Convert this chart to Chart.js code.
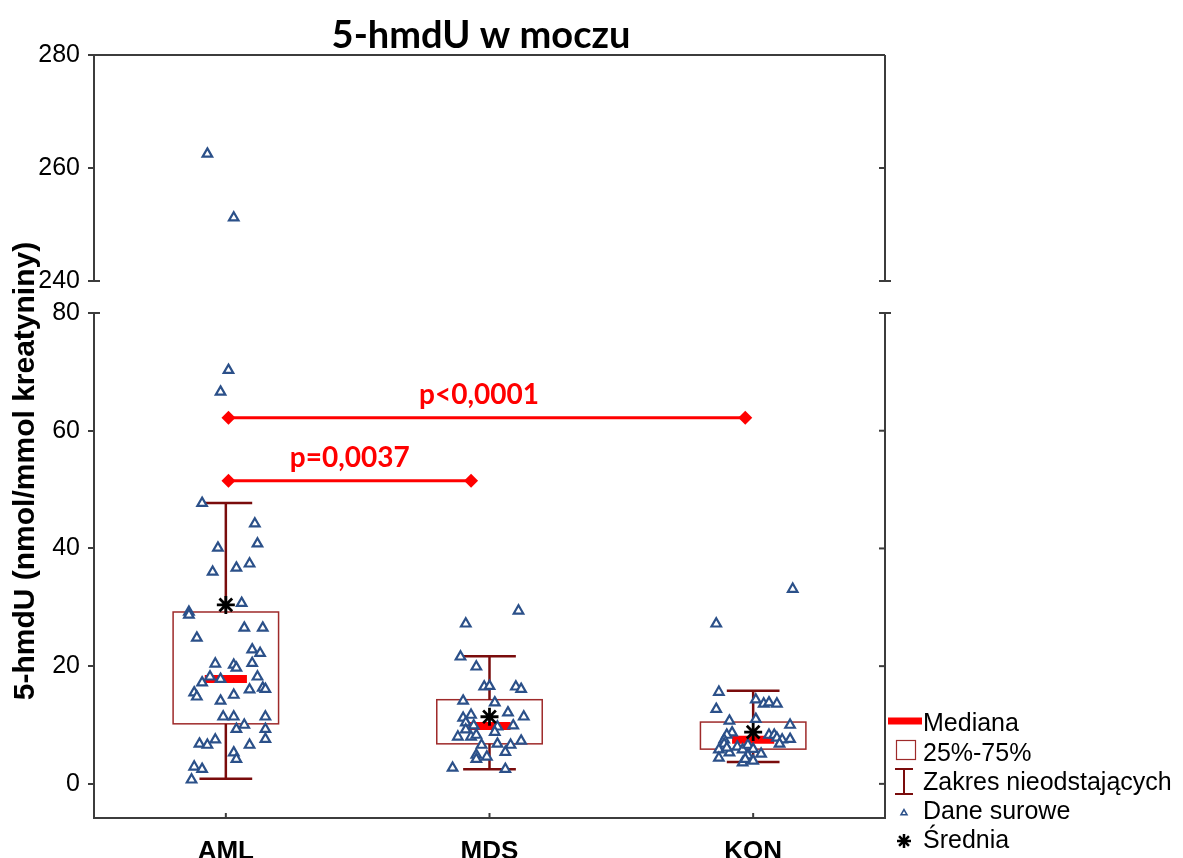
<!DOCTYPE html>
<html>
<head>
<meta charset="utf-8">
<title>5-hmdU w moczu</title>
<script src="https://cdn.jsdelivr.net/npm/chart.js@4.4.1/dist/chart.umd.min.js"></script>
<style>
  html, body { margin: 0; padding: 0; background: #fff; }
  #wrap { position: relative; width: 1183px; height: 858px; }
</style>
</head>
<body>
<div id="wrap"><canvas id="chart" width="1183" height="858"></canvas></div>
<script>
const groups = ['AML', 'MDS', 'KON'];
const yTicksUpper = [240, 260, 280];
const yTicksLower = [0, 20, 40, 60, 80];

// raw values per group; *X holds the jittered horizontal position
const amlX = [0.86, 0.86, 1.06, 0.89, 1.07, 1.14, 1.10, 1.13, 0.96, 1.03,
              1.04, 1.10, 0.91, 0.94, 0.98, 1.12, 1.09, 1.14, 1.15, 0.88,
              0.89, 1.03, 0.98, 0.99, 1.03, 1.15, 1.04, 1.07, 1.15, 1.15,
              0.90, 0.93, 0.96, 1.09, 1.03, 1.04, 0.88, 0.91, 0.87, 0.91,
              1.11, 1.12, 0.97, 0.95, 1.04, 1.09, 1.01, 0.98, 0.93, 1.03];
const amlY = [29.2, 28.7, 30.7, 24.8, 26.5, 26.5, 22.8, 22.2, 20.4, 20.2,
              19.7, 20.5, 17.2, 18.2, 17.8, 18.2, 16.0, 16.3, 16.1, 15.5,
              14.8, 15.1, 14.1, 11.4, 11.4, 11.4, 9.3, 10.0, 9.3, 7.6,
              6.8, 6.6, 7.5, 6.6, 5.3, 4.2, 2.9, 2.5, 0.7, 47.7,
              44.2, 40.8, 40.1, 36.0, 36.7, 37.4, 70.3, 66.6, 262.5, 251.2];
const mdsX = [2.11, 1.91, 1.89, 1.95, 1.98, 2.00, 2.10, 2.12, 1.90, 2.02,
              2.07, 2.13, 1.90, 1.93, 1.91, 1.94, 2.03, 2.09, 1.91, 2.02,
              1.93, 1.88, 1.95, 2.12, 1.97, 2.03, 2.08, 2.06, 1.95, 1.95,
              1.99, 1.86, 2.06];
const mdsY = [29.4, 27.2, 21.6, 19.9, 16.5, 16.6, 16.5, 16.1, 14.1, 13.8,
              12.1, 11.4, 11.2, 11.7, 10.4, 9.9, 9.7, 9.9, 9.2, 8.8,
              8.0, 8.0, 8.3, 7.3, 6.6, 6.8, 6.6, 5.4, 4.9, 4.2,
              4.6, 2.7, 2.5];
const konX = [3.15, 2.86, 2.87, 2.86, 3.01, 3.04, 3.06, 3.09, 2.91, 3.01,
              3.14, 2.92, 2.90, 2.89, 3.06, 3.08, 3.09, 3.11, 3.14, 3.10,
              2.89, 2.87, 2.91, 2.94, 2.96, 2.98, 3.00, 3.03, 2.98, 2.87,
              2.96, 2.97, 3.00, 2.90];
const konY = [33.1, 27.2, 15.6, 12.7, 14.3, 13.6, 13.8, 13.6, 10.7, 11.0,
              10.0, 8.7, 8.3, 7.5, 8.3, 8.3, 7.8, 7.5, 7.6, 6.8,
              6.8, 5.8, 5.3, 6.3, 5.8, 6.6, 5.9, 5.1, 4.8, 4.4,
              3.6, 4.2, 3.9, 6.1];

// box plot summary per group
const q1 = [10.2, 6.8, 5.9];
const q3 = [29.2, 14.3, 10.5];
const medians = [17.8, 9.85, 7.5];
const whiskerLow = [0.85, 2.5, 3.7];
const whiskerHigh = [47.7, 21.7, 15.8];
const means = [30.4, 11.4, 8.8];

// significance brackets
const compFrom = [1.01, 1.01];
const compTo = [2.97, 1.93];
const compLevel = [62.2, 51.5];
const compLabels = ['p<0,0001', 'p=0,0037'];
const compLabelX = [1.96, 1.47];

const BREAK_AT = 200;          // values above this live on the upper panel
const BOX_HALF = 0.2;
const CAP_HALF = 0.1;
const MED_HALF = 0.08;

const RED = '#ff0000';
const BOX_RED = '#9e2a2a';
const WHISK = '#7a0c0c';
const BLUE = '#2b5089';
const AXIS = '#3c3c3c';
const SANS = '"Liberation Sans", Arial, sans-serif';
const TITLE_FONT = 'Lato, "Open Sans", sans-serif';

const allX = amlX.concat(mdsX, konX);
const allY = amlY.concat(mdsY, konY);
const rawLower = allX.map((x, i) => ({ x, y: allY[i] })).filter(p => p.y <= BREAK_AT);
const rawUpper = allX.map((x, i) => ({ x, y: allY[i] })).filter(p => p.y > BREAK_AT);

const line = (ctx, x1, y1, x2, y2) => {
  ctx.beginPath(); ctx.moveTo(x1, y1); ctx.lineTo(x2, y2); ctx.stroke();
};

// boxes, whiskers and medians under the points
const boxPlot = {
  id: 'boxPlot',
  beforeDatasetsDraw(chart) {
    const { ctx } = chart;
    const xs = chart.scales.x, ys = chart.scales.yLow;
    ctx.save();
    groups.forEach((g, i) => {
      const c = i + 1;
      const cx = xs.getPixelForValue(c);
      const bl = xs.getPixelForValue(c - BOX_HALF), br = xs.getPixelForValue(c + BOX_HALF);
      const top = ys.getPixelForValue(q3[i]), bot = ys.getPixelForValue(q1[i]);
      ctx.strokeStyle = BOX_RED; ctx.lineWidth = 1.5;
      ctx.strokeRect(bl, top, br - bl, bot - top);

      ctx.strokeStyle = WHISK; ctx.lineWidth = 2.5;
      const hi = ys.getPixelForValue(whiskerHigh[i]), lo = ys.getPixelForValue(whiskerLow[i]);
      line(ctx, cx, top, cx, hi);
      line(ctx, cx, bot, cx, lo);
      const cl = xs.getPixelForValue(c - CAP_HALF), cr = xs.getPixelForValue(c + CAP_HALF);
      line(ctx, cl, hi, cr, hi);
      line(ctx, cl, lo, cr, lo);

      ctx.strokeStyle = RED; ctx.lineWidth = 8;
      const m = ys.getPixelForValue(medians[i]);
      line(ctx, xs.getPixelForValue(c - MED_HALF), m, xs.getPixelForValue(c + MED_HALF), m);
    });
    ctx.restore();
  },
  afterDatasetsDraw(chart) {
    const { ctx } = chart;
    const xs = chart.scales.x, ys = chart.scales.yLow;
    ctx.save();
    ctx.fillStyle = RED;
    ctx.font = 'bold 28px ' + TITLE_FONT;
    ctx.textAlign = 'center';
    ctx.textBaseline = 'alphabetic';
    compLabels.forEach((t, i) => {
      ctx.fillText(t, xs.getPixelForValue(compLabelX[i]), ys.getPixelForValue(compLevel[i]) - 14);
    });
    ctx.restore();
  }
};

// broken frame, right-side ticks, titles and legend
const frame = {
  id: 'frame',
  afterDraw(chart) {
    const { ctx, chartArea: a } = chart;
    const up = chart.scales.yUp, lo = chart.scales.yLow, xs = chart.scales.x;
    ctx.save();
    ctx.strokeStyle = AXIS; ctx.lineWidth = 2;
    line(ctx, a.left, a.top, a.right, a.top);
    line(ctx, a.left - 1, a.bottom, a.right + 1, a.bottom);
    line(ctx, a.right, up.top, a.right, up.bottom);
    line(ctx, a.right, lo.top, a.right, lo.bottom);
    yTicksUpper.forEach(v => { const y = up.getPixelForValue(v); line(ctx, a.right - 6, y, a.right, y); });
    yTicksLower.forEach(v => { const y = lo.getPixelForValue(v); line(ctx, a.right - 6, y, a.right, y); });
    [a.left, a.right].forEach(px => {
      line(ctx, px - 6, up.bottom, px + 6, up.bottom);
      line(ctx, px - 6, lo.top, px + 6, lo.top);
    });
    groups.forEach((g, i) => { const px = xs.getPixelForValue(i + 1); line(ctx, px, a.bottom, px, a.bottom - 5); });

    // chart title
    ctx.fillStyle = '#000';
    ctx.textAlign = 'center';
    ctx.textBaseline = 'alphabetic';
    ctx.font = 'bold 38px ' + TITLE_FONT;
    ctx.fillText('5-hmdU w moczu', 481, 48);

    // y axis title
    ctx.save();
    ctx.translate(34, 471);
    ctx.rotate(-Math.PI / 2);
    ctx.font = 'bold 30px ' + SANS;
    ctx.textBaseline = 'alphabetic';
    ctx.fillText('5-hmdU (nmol/mmol kreatyniny)', 0, 0);
    ctx.restore();

    // legend
    const tx = 923;
    ctx.font = '25px ' + SANS;
    ctx.textAlign = 'left';
    ctx.fillStyle = '#000';
    ctx.strokeStyle = RED; ctx.lineWidth = 7;
    line(ctx, 888, 721, 922, 721);
    ctx.fillText('Mediana', tx, 731);

    ctx.strokeStyle = BOX_RED; ctx.lineWidth = 1.2;
    ctx.strokeRect(896.5, 740.5, 19, 19);
    ctx.fillText('25%-75%', tx, 761);

    ctx.strokeStyle = WHISK; ctx.lineWidth = 2;
    line(ctx, 904, 769, 904, 794);
    line(ctx, 895, 769, 913, 769);
    line(ctx, 895, 794, 913, 794);
    ctx.fillText('Zakres nieodstających', tx, 790);

    ctx.save();
    ctx.fillStyle = '#fff'; ctx.strokeStyle = BLUE; ctx.lineWidth = 1.5;
    Chart.helpers.drawPoint(ctx, { pointStyle: 'triangle', radius: 3.5, borderWidth: 1.5, rotation: 0 }, 904, 813);
    ctx.restore();
    ctx.fillText('Dane surowe', tx, 819);

    ctx.strokeStyle = '#000'; ctx.lineWidth = 2.5;
    Chart.helpers.drawPoint(ctx, { pointStyle: 'star', radius: 7, borderWidth: 2.5, rotation: 0 }, 904, 841);
    ctx.fillText('Średnia', tx, 848);
    ctx.restore();
  }
};

const leftAxis = (extra) => Object.assign({
  type: 'linear',
  position: 'left',
  stack: 'v',
  afterFit: s => { s.width = 94; },
  border: { display: true, color: AXIS, width: 2 },
  grid: { display: true, drawOnChartArea: false, drawTicks: true, tickLength: 6, color: AXIS, lineWidth: 2 },
  ticks: { color: '#000', font: { family: SANS, size: 25 }, padding: 8 }
}, extra);

new Chart(document.getElementById('chart'), {
  type: 'scatter',
  data: {
    datasets: [
      {
        label: 'Średnia',
        data: groups.map((g, i) => ({ x: i + 1, y: means[i] })),
        yAxisID: 'yLow',
        pointStyle: 'star',
        pointRadius: 9,
        pointBorderWidth: 2.8,
        borderColor: '#000',
        backgroundColor: '#000'
      },
      ...compLabels.map((t, i) => ({
        label: t,
        type: 'line',
        data: [{ x: compFrom[i], y: compLevel[i] }, { x: compTo[i], y: compLevel[i] }],
        yAxisID: 'yLow',
        borderColor: RED,
        borderWidth: 3,
        backgroundColor: RED,
        pointStyle: 'rectRot',
        pointRadius: 7,
        pointBorderWidth: 0
      })),
      {
        label: 'Dane surowe',
        data: rawLower,
        yAxisID: 'yLow',
        pointStyle: 'triangle',
        pointRadius: 5.5,
        pointBorderWidth: 2.2,
        borderColor: BLUE,
        backgroundColor: '#fff'
      },
      {
        label: 'Dane surowe (góra)',
        data: rawUpper,
        yAxisID: 'yUp',
        pointStyle: 'triangle',
        pointRadius: 5.5,
        pointBorderWidth: 2.2,
        borderColor: BLUE,
        backgroundColor: '#fff'
      }
    ]
  },
  options: {
    responsive: false,
    animation: false,
    devicePixelRatio: 1,
    layout: { padding: { top: 55, right: 298, bottom: 0, left: 0 } },
    plugins: { legend: { display: false }, tooltip: { enabled: false } },
    scales: {
      x: {
        type: 'linear',
        min: 0.5,
        max: 3.5,
        afterBuildTicks: s => { s.ticks = groups.map((g, i) => ({ value: i + 1 })); },
        afterFit: s => { s.height = 40; },
        border: { display: false },
        grid: { display: false },
        ticks: {
          color: '#000',
          font: { family: SANS, size: 26, weight: 'bold' },
          padding: 10,
          maxRotation: 0,
          callback: v => groups[v - 1]
        }
      },
      yLow: leftAxis({
        min: -5.8, max: 80, stackWeight: 505,
        afterBuildTicks: s => { s.ticks = yTicksLower.map(v => ({ value: v })); }
      }),
      yGap: {
        type: 'linear', position: 'left', stack: 'v', stackWeight: 32,
        afterFit: s => { s.width = 94; },
        border: { display: false }, grid: { display: false }, ticks: { display: false }
      },
      yUp: leftAxis({
        min: 240, max: 280, stackWeight: 226,
        afterBuildTicks: s => { s.ticks = yTicksUpper.map(v => ({ value: v })); }
      })
    }
  },
  plugins: [boxPlot, frame]
});
</script>
</body>
</html>
